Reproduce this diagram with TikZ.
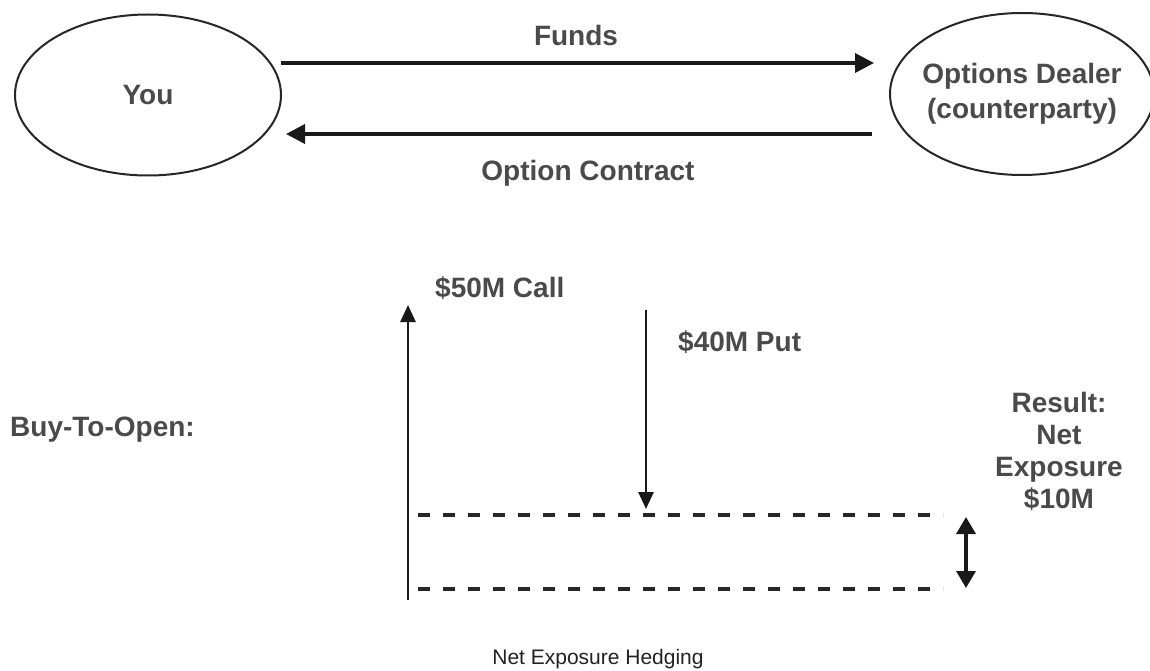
\documentclass[tikz,border=0pt]{standalone}
\usepackage{fontspec}
\setmainfont{Liberation Sans}
\usetikzlibrary{shapes.geometric,arrows.meta}
\definecolor{labelgray}{HTML}{4A4A4A}
\definecolor{captiongray}{HTML}{222222}
\tikzset{
  party/.style={ellipse,draw=black!85,line width=2pt,inner sep=-20pt,
    font=\fontsize{28}{33}\selectfont\bfseries,text=labelgray,align=center},
  lbl/.style={font=\fontsize{28}{33}\selectfont\bfseries,text=labelgray,inner sep=0pt},
  flow/.style={line width=3.6pt,draw=black!90,-{Triangle[length=19pt,width=19pt]}},
  leg/.style={line width=2.8pt,draw=black!90,-{Triangle[length=17pt,width=15pt]}},
  level/.style={line width=4pt,draw=black!85,dash pattern=on 12pt off 13pt},
  span/.style={line width=3.4pt,draw=black!90,{Triangle[length=17pt,width=19pt]}-{Triangle[length=17pt,width=19pt]}}
}
\begin{document}
\begin{tikzpicture}[x=1pt,y=-1pt]
\useasboundingbox (0,0) rectangle (1150,671);

% the two parties
\node[party,minimum width=266pt,minimum height=161pt] (you) at (148,95) {You};
\node[party,minimum width=264pt,minimum height=162pt] (dealer) at (1022,94)
  {Options Dealer\\[2pt](counterparty)};

% exchange between the parties
\coordinate (fundsA) at (281,63);
\coordinate (fundsB) at (874,63);
\coordinate (optA) at (872,134);
\coordinate (optB) at (286,134);
\draw[flow] (fundsA) -- (fundsB);
\draw[flow] (optA) -- (optB);
\node[lbl] (funds) at (576,35) {Funds};
\node[lbl] (opt) at (588,173) {Option Contract};

% position legs
\node[lbl,anchor=west] (call) at (435,288) {\$50M Call};
\node[lbl,anchor=west] (put) at (678,342) {\$40M Put};
\node[lbl,anchor=west] (bto) at (10,430) {Buy-To-Open:};

\coordinate (callBase) at (408,600);
\coordinate (callTip) at (408,305);
\coordinate (putTop) at (646,310);
\coordinate (putTip) at (646,509);
\draw[leg] (callBase) -- (callTip);
\draw[leg] (putTop) -- (putTip);

% net exposure levels
\coordinate (hiL) at (418,515);
\coordinate (hiR) at (943,515);
\coordinate (loL) at (418,589);
\coordinate (loR) at (943,589);
\draw[level] (hiL) -- (hiR);
\draw[level] (loL) -- (loR);

\coordinate (spanTop) at (966,517);
\coordinate (spanBot) at (966,588);
\draw[span] (spanTop) -- (spanBot);

\node[lbl,align=center,font=\fontsize{28}{32}\selectfont\bfseries] (result) at (1059,451)
  {Result:\\Net\\Exposure\\\$10M};

% caption
\node[font=\fontsize{21}{25}\selectfont,text=captiongray,inner sep=0pt] (caption) at (598,659)
  {Net Exposure Hedging};
\end{tikzpicture}
\end{document}
